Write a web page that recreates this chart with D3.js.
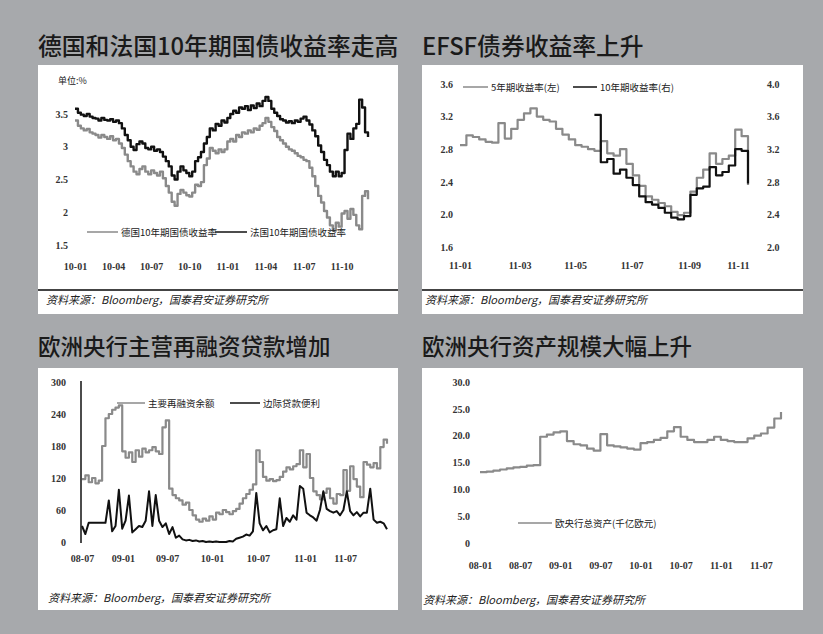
<!DOCTYPE html>
<html><head><meta charset="utf-8">
<script src="https://cdn.jsdelivr.net/npm/d3@7"></script>
<style>
body{margin:0;background:#a7a9ac;}
svg{display:block;}
</style></head><body>
<svg id="c" width="823" height="634"></svg>
<script>
// ---------- Chart 1: German & French 10Y yields (weekly, 2010-01 .. 2011-11)
const titles = ["德国和法国10年期国债收益率走高","EFSF债券收益率上升","欧洲央行主营再融资贷款增加","欧洲央行资产规模大幅上升"];
const source = "资料来源：Bloomberg，国泰君安证券研究所";

const c1Ticks = [1.5, 2, 2.5, 3, 3.5];
const c1XLabels = ["10-01","10-04","10-07","10-10","11-01","11-04","11-07","11-10"];
const c1XPos = [0,13,26,39,52,65,78,91];
const c1Names = ["德国10年期国债收益率","法国10年期国债收益率"];
const c1France = [3.58,3.52,3.49,3.47,3.50,3.46,3.44,3.43,3.40,3.44,3.41,3.40,3.42,3.38,3.40,3.36,3.28,3.18,3.10,3.00,
2.95,3.04,3.08,3.05,2.98,2.96,3.00,2.94,2.96,2.92,2.85,2.78,2.70,2.56,2.50,2.62,2.70,2.64,2.60,2.55,
2.62,2.78,2.84,2.92,3.05,3.15,3.28,3.25,3.35,3.32,3.40,3.37,3.44,3.50,3.55,3.52,3.60,3.58,3.62,3.56,
3.63,3.59,3.66,3.62,3.70,3.76,3.70,3.58,3.52,3.47,3.42,3.40,3.37,3.39,3.36,3.40,3.38,3.43,3.46,3.40,
3.34,3.25,3.16,3.02,2.92,2.80,2.72,2.62,2.55,2.62,2.55,2.60,2.95,3.20,3.12,3.28,3.35,3.72,3.60,3.22,3.15];
const c1Germany = [3.40,3.32,3.28,3.25,3.27,3.22,3.20,3.18,3.14,3.18,3.15,3.12,3.16,3.10,3.12,3.05,2.98,2.88,2.78,2.70,
2.62,2.58,2.66,2.70,2.62,2.58,2.64,2.60,2.56,2.62,2.52,2.40,2.30,2.16,2.10,2.28,2.34,2.30,2.26,2.24,
2.30,2.42,2.40,2.46,2.72,2.82,2.98,2.94,2.90,2.96,2.92,2.96,3.08,3.12,3.08,3.18,3.15,3.22,3.20,3.25,
3.22,3.28,3.26,3.32,3.36,3.44,3.38,3.30,3.24,3.15,3.10,3.05,3.00,2.96,2.94,2.90,2.86,2.84,2.80,2.78,
2.68,2.55,2.40,2.25,2.15,2.02,1.92,1.80,1.72,1.84,1.78,1.98,2.02,1.90,2.05,1.96,1.80,1.74,2.25,2.32,2.20];

// ---------- Chart 2: EFSF bond yields (weekly, 2011-01 .. 2011-11)
const c2LeftTicks = [1.6, 2.0, 2.4, 2.8, 3.2, 3.6];
const c2RightTicks = [2.0, 2.4, 2.8, 3.2, 3.6, 4.0];
const c2XLabels = ["11-01","11-03","11-05","11-07","11-09","11-11"];
const c2XPos = [0, 9.3, 18, 26.8, 35.8, 43.4];
const c2Names = ["5年期收益率(左)","10年期收益率(右)"];
const c2Bond5 = [2.85,2.97,2.95,2.92,2.89,2.88,3.12,2.93,3.05,3.16,3.24,3.30,3.20,3.16,3.14,3.05,2.98,2.92,2.85,2.83,
2.80,2.78,2.90,2.75,2.72,2.80,2.62,2.48,2.35,2.22,2.18,2.14,2.10,2.03,1.99,2.02,2.28,2.45,2.55,2.75,
2.62,2.68,2.72,3.04,2.96,2.36];
const c2Bond10 = [null,null,null,null,null,null,null,null,null,null,null,null,null,null,null,null,null,null,null,null,null,
3.62,3.04,3.08,2.90,2.95,2.85,2.76,2.62,2.55,2.52,2.48,2.42,2.36,2.34,2.38,2.64,2.72,2.74,2.98,2.88,
2.92,3.00,3.20,3.18,2.78];

// ---------- Chart 3: ECB refinancing (bi-weekly, 2008-07 .. 2011-12)
const c3Ticks = [0, 60, 120, 180, 240, 300];
const c3XLabels = ["08-07","09-01","09-07","10-01","10-07","11-01","11-07"];
const c3XPos = [0, 12.2, 25.4, 38.8, 52.5, 66.6, 78.5];
const c3Names = ["主要再融资余额","边际贷款便利"];
const c3Mro = [118,125,112,120,110,115,180,232,240,248,252,256,170,158,168,150,172,160,175,168,
172,178,170,165,215,228,100,88,82,78,70,74,60,50,42,38,44,40,48,42,
55,52,60,56,52,58,62,72,82,90,98,108,172,150,122,115,118,114,116,122,
132,140,136,142,146,172,140,165,120,95,88,80,92,100,82,72,90,88,135,96,
142,118,104,84,150,145,140,148,138,178,192,184];
const c3Mlf = [30,15,36,36,36,36,36,36,78,20,30,98,25,40,87,18,24,30,28,40,
95,30,88,40,28,35,15,28,8,12,5,3,4,2,3,1,2,0,1,0,
1,0,0,0,2,1,6,8,10,14,12,20,92,35,22,30,18,22,24,82,
30,45,38,50,42,105,100,55,50,46,40,60,95,62,58,55,58,50,60,95,
58,50,56,48,55,55,100,42,36,38,35,24];

// ---------- Chart 4: ECB total assets (monthly, 2008-01 .. 2011-10)
const c4Ticks = [0, 5, 10, 15, 20, 25, 30];
const c4TickLabels = ["0","5.0","10.0","15.0","20.0","25.0","30.0"];
const c4XLabels = ["08-01","08-07","09-01","09-07","10-01","10-07","11-01","11-07"];
const c4XPos = [0,6,12,18,24,30,36,42];
const c4Name = "欧央行总资产(千亿欧元)";
const c4Assets = [13.2,13.3,13.5,13.7,13.9,14.1,14.2,14.4,14.5,19.8,20.2,20.6,20.8,19.0,18.4,18.2,17.6,17.2,20.3,18.2,
18.0,17.8,17.6,17.4,18.6,18.8,19.2,19.6,20.8,21.6,19.8,19.2,18.8,18.8,19.2,19.8,19.2,19.0,18.8,18.8,
19.5,20.0,20.4,21.5,23.2,24.4];

// ================= drawing =================
const svg = d3.select('#c');
const GRAY = '#8a8a8a', BLACK = '#111';
const numFont = 'Liberation Serif';
const cjk = '"Noto Sans CJK SC"';
svg.append('rect').attr('width',823).attr('height',634).attr('fill','#a7a9ac');

const panels = [{x:38,y:65,w:360,h:249},{x:422,y:65,w:381,h:249},{x:38,y:368,w:360,h:242},{x:422,y:368,w:381,h:242}];
panels.forEach(p => svg.append('rect').attr('x',p.x).attr('y',p.y).attr('width',p.w).attr('height',p.h).attr('fill','#fff'));
const titlePos = [[38,55,23.8],[422,55,23.8],[38,355,22.5],[422,355,22.5]];
titles.forEach((t,i)=> svg.append('text').attr('x',titlePos[i][0]).attr('y',titlePos[i][1])
  .attr('font-family',cjk).attr('font-size',titlePos[i][2]).attr('font-weight',500).attr('fill','#1a1a1a').text(t));

function yAxis(g, scale, ticks, xPos, side, fmt){
  const ax = (side==='left'? d3.axisLeft(scale) : d3.axisRight(scale)).tickValues(ticks).tickSize(0).tickPadding(0).tickFormat(fmt);
  const a = g.append('g').attr('transform',`translate(${xPos},0)`).call(ax);
  a.select('.domain').remove();
  a.selectAll('text').attr('font-family',numFont).attr('font-size',10).attr('font-weight','bold').attr('fill','#333');
  return a;
}
function xLabels(g, scale, pos, labels, yPos){
  const ax = d3.axisBottom(scale).tickValues(pos).tickSize(0).tickPadding(0).tickFormat((d,i)=>labels[i]);
  const a = g.append('g').attr('transform',`translate(0,${yPos})`).call(ax);
  a.select('.domain').remove();
  a.selectAll('text').attr('font-family',numFont).attr('font-size',10).attr('font-weight','bold').attr('fill','#333');
}
function line(g, data, x, y, color, w, curve){
  g.append('path').datum(data)
   .attr('d', d3.line().defined(d=>d!=null).x((d,i)=>x(i)).y(d=>y(d)).curve(curve||d3.curveStepAfter))
   .attr('fill','none').attr('stroke',color).attr('stroke-width',w).attr('stroke-linejoin','round');
}
function legend(g, x1, x2, yPos, color, w, label){
  g.append('line').attr('x1',x1).attr('x2',x2).attr('y1',yPos).attr('y2',yPos).attr('stroke',color).attr('stroke-width',w);
  g.append('text').attr('x',x2+3).attr('y',yPos+3.5).attr('font-family',cjk).attr('font-size',9.5).attr('fill','#222').text(label);
}
function footer(g, x, yPos){
  g.append('text').attr('x',x).attr('y',yPos).attr('font-family',cjk).attr('font-size',11).attr('font-style','italic').attr('fill','#222').text(source);
}

// ---- Chart 1
{
  const g = svg.append('g');
  const x = d3.scaleLinear().domain([0,100]).range([75,368]);
  const y = d3.scaleLinear().domain([1.5,3.5]).range([245,114]);
  yAxis(g, y, c1Ticks, 68, 'left', d=>String(d));
  xLabels(g, x, c1XPos, c1XLabels, 263);
  g.append('text').attr('x',58).attr('y',84).attr('font-family',cjk).attr('font-size',9).attr('fill','#222').text('单位:%');
  line(g, c1Germany, x, y, GRAY, 2.4);
  line(g, c1France, x, y, BLACK, 2.4);
  legend(g, 87, 118, 232, GRAY, 1.5, c1Names[0]);
  legend(g, 215, 247, 232, BLACK, 1.5, c1Names[1]);
  g.append('line').attr('x1',38).attr('x2',398).attr('y1',290).attr('y2',290).attr('stroke','#444').attr('stroke-width',2);
  footer(g, 46, 304);
}
// ---- Chart 2
{
  const g = svg.append('g');
  const x = d3.scaleLinear().domain([0,45]).range([460,748]);
  const yL = d3.scaleLinear().domain([1.6,3.6]).range([247,84]);
  const yR = d3.scaleLinear().domain([2.0,4.0]).range([247,84]);
  yAxis(g, yL, c2LeftTicks, 453, 'left', d3.format('.1f'));
  yAxis(g, yR, c2RightTicks, 767, 'right', d3.format('.1f'));
  xLabels(g, x, c2XPos, c2XLabels, 262);
  line(g, c2Bond5, x, yL, GRAY, 2.2);
  line(g, c2Bond10, x, yR, BLACK, 2.2);
  legend(g, 463, 488, 87, GRAY, 1.5, c2Names[0]);
  legend(g, 573, 597, 87, BLACK, 1.5, c2Names[1]);
  g.append('line').attr('x1',422).attr('x2',803).attr('y1',290).attr('y2',290).attr('stroke','#444').attr('stroke-width',2);
  footer(g, 425, 304);
}
// ---- Chart 3
{
  const g = svg.append('g');
  const x = d3.scaleLinear().domain([0,91]).range([82,387]);
  const y = d3.scaleLinear().domain([0,300]).range([542,382]);
  yAxis(g, y, c3Ticks, 66, 'left', d=>String(d));
  g.append('line').attr('x1',81).attr('x2',81).attr('y1',381).attr('y2',543).attr('stroke','#111').attr('stroke-width',1.5);
  xLabels(g, x, c3XPos, c3XLabels, 555);
  line(g, c3Mro, x, y, GRAY, 2.2);
  line(g, c3Mlf, x, y, BLACK, 2, d3.curveLinear);
  legend(g, 117, 145, 403, GRAY, 1.5, c3Names[0]);
  legend(g, 230, 260, 403, BLACK, 1.5, c3Names[1]);
  footer(g, 48, 602);
}
// ---- Chart 4
{
  const g = svg.append('g');
  const x = d3.scaleLinear().domain([0,45]).range([480,781]);
  const y = d3.scaleLinear().domain([0,30]).range([543,382]);
  yAxis(g, y, c4Ticks, 470, 'left', (d,i)=>c4TickLabels[i]);
  xLabels(g, x, c4XPos, c4XLabels, 562);
  line(g, c4Assets, x, y, GRAY, 2.2);
  legend(g, 518, 552, 523, GRAY, 1.5, c4Name);
  footer(g, 423, 604);
}
</script>
</body></html>
